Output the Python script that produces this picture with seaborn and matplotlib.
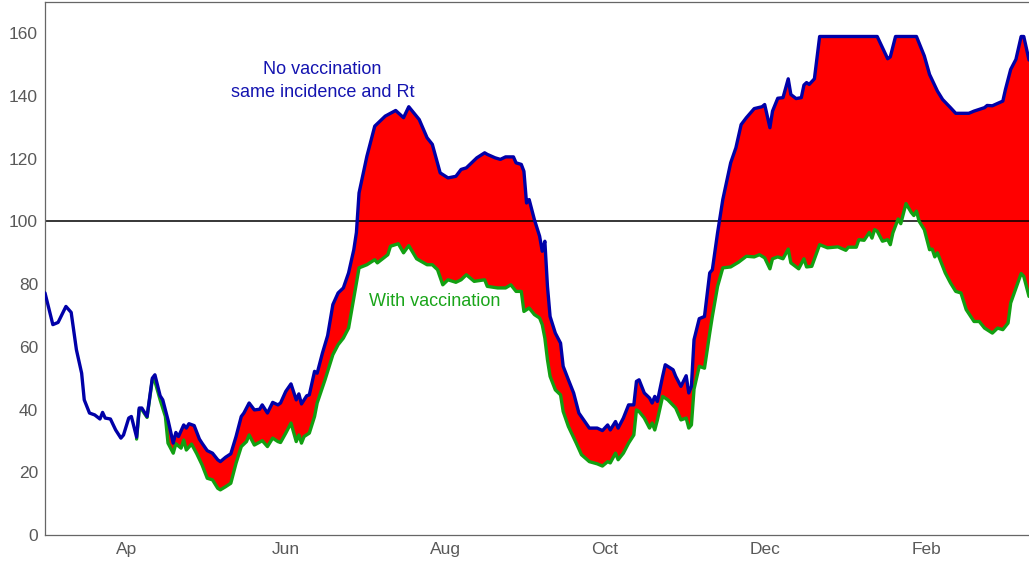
import matplotlib
matplotlib.use("Agg")
import matplotlib.pyplot as plt
import matplotlib.dates as mdates
import numpy as np
import pandas as pd
import seaborn as sns

# ---- Data ----
start = "2021-03-01"

# no vaccination (same incidence and Rt), days since start
blue_day = [0, 3, 5, 8, 10, 12, 14, 15, 17, 19, 21, 22, 23, 25, 27, 29, 30, 32, 33, 35,
            36, 37, 39, 41, 42, 44, 45, 47, 49, 50, 51, 53, 54, 55, 57, 59, 60, 62, 64, 66,
            67, 69, 71, 73, 75, 76, 78, 80, 82, 83, 85, 87, 89, 90, 92, 94, 96, 97, 98, 100,
            101, 103, 104, 106, 108, 110, 112, 114, 116, 118, 119, 120, 123, 126, 130, 134, 137, 139, 143, 146,
            148, 151, 154, 157, 159, 161, 163, 165, 168, 169, 172, 174, 176, 179, 180, 182, 183, 184, 185, 187,
            189, 190, 191, 192, 193, 195, 197, 198, 200, 202, 204, 208, 211, 213, 215, 216, 218, 219, 221, 223,
            225, 226, 227, 229, 231, 232, 233, 234, 236, 237, 240, 241, 243, 245, 246, 247, 248, 250, 252, 254,
            255, 257, 259, 262, 264, 266, 268, 271, 274, 275, 277, 278, 280, 282, 284, 285, 287, 289, 290, 291,
            292, 294, 296, 318, 322, 323, 325, 333, 336, 338, 341, 343, 346, 348, 353, 355, 359, 360, 362, 366,
            367, 369, 371, 373, 374, 376]
blue_val = [77.2, 67.1, 67.8, 72.9, 71.0, 59.1, 51.6, 43.1, 38.9, 38.3, 37.0, 39.1, 37.3, 37.0, 33.5, 30.9, 31.9, 37.3, 37.8, 31.2,
            40.5, 40.5, 37.8, 50.0, 51.1, 44.4, 43.1, 36.7, 29.3, 32.7, 31.4, 35.1, 34.1, 35.5, 34.9, 30.6, 29.3, 26.9, 26.1, 24.0,
            23.4, 24.8, 25.9, 31.4, 37.8, 38.9, 42.1, 39.9, 40.1, 41.5, 38.9, 42.3, 41.5, 42.1, 45.8, 48.2, 43.1, 45.0, 41.8, 44.4,
            44.7, 52.2, 51.6, 58.0, 63.6, 73.5, 77.2, 78.8, 83.6, 91.0, 96.5, 109.1, 120.8, 130.4, 133.6, 135.4, 133.1, 136.6, 132.5, 126.7,
            124.6, 115.5, 113.9, 114.4, 116.6, 117.1, 118.7, 120.3, 121.9, 121.4, 120.3, 119.8, 120.6, 120.6, 118.7, 118.2, 116.0, 105.9, 107.0, 100.6,
            95.3, 90.5, 93.7, 79.3, 69.7, 64.4, 61.2, 53.8, 49.5, 45.3, 38.9, 34.1, 34.1, 33.3, 35.1, 33.5, 36.2, 34.1, 37.3, 41.5,
            41.5, 49.0, 49.5, 45.3, 43.7, 42.1, 44.2, 42.6, 50.6, 54.3, 52.7, 50.6, 47.4, 50.8, 45.3, 47.4, 62.3, 69.0, 69.7, 83.6,
            84.6, 96.4, 107.0, 118.7, 123.5, 130.9, 133.1, 136.0, 136.6, 137.3, 129.9, 135.2, 139.3, 139.5, 145.5, 140.5, 139.2, 139.5, 143.5, 144.3,
            143.7, 145.5, 159.0, 159.0, 151.9, 152.5, 159.0, 159.0, 152.8, 146.9, 141.6, 138.9, 136.3, 134.5, 134.5, 135.2, 136.3, 137.0, 136.9, 138.4,
            142.1, 148.5, 151.7, 159.0, 159.0, 151.5]

# with vaccination
green_day = [35, 36, 37, 39, 41, 42, 44, 46, 47, 49, 50, 52, 53, 54, 56, 58, 60, 62, 64, 66,
             67, 69, 71, 73, 75, 77, 78, 80, 82, 83, 85, 87, 89, 90, 92, 94, 96, 97, 98, 99,
             101, 103, 104, 107, 110, 112, 114, 116, 118, 120, 123, 126, 127, 131, 132, 135, 137, 139, 142, 146,
             148, 150, 152, 154, 157, 159, 161, 164, 168, 169, 173, 176, 178, 180, 182, 183, 185, 187, 189, 190,
             191, 192, 193, 195, 197, 198, 200, 203, 205, 208, 211, 213, 215, 216, 218, 219, 221, 223, 225, 226,
             227, 229, 231, 232, 233, 234, 236, 238, 241, 243, 245, 246, 247, 248, 250, 252, 254, 255, 257, 259,
             262, 265, 268, 271, 273, 275, 277, 278, 280, 282, 284, 285, 288, 290, 291, 293, 296, 299, 303, 306,
             307, 310, 311, 313, 315, 316, 317, 318, 320, 322, 323, 324, 326, 327, 329, 331, 332, 333, 334, 336,
             338, 339, 340, 341, 344, 346, 348, 350, 352, 355, 357, 359, 362, 364, 366, 368, 369, 373, 374, 376]
green_val = [30.6, 40.0, 40.0, 37.5, 49.5, 49.0, 43.1, 37.8, 29.3, 26.1, 29.1, 27.7, 30.3, 27.1, 29.0, 25.9, 22.4, 18.1, 17.6, 14.9,
             14.4, 15.4, 16.5, 22.9, 28.2, 29.8, 31.9, 28.7, 29.6, 30.1, 28.2, 30.9, 29.8, 29.5, 32.5, 35.7, 29.8, 31.9, 29.3, 31.4,
             32.5, 37.8, 42.1, 49.5, 57.5, 60.7, 62.8, 66.0, 75.6, 85.2, 86.2, 87.8, 86.8, 89.4, 92.1, 92.9, 90.0, 92.3, 88.1, 86.2,
             86.2, 84.6, 79.8, 81.4, 80.6, 81.4, 83.0, 80.9, 81.4, 79.3, 78.8, 78.8, 79.8, 77.7, 77.7, 71.3, 72.4, 70.3, 69.2, 67.1,
             62.8, 55.9, 50.6, 46.3, 44.7, 39.4, 34.6, 29.3, 25.6, 23.4, 22.7, 22.0, 23.4, 23.0, 26.1, 24.0, 26.1, 29.3, 31.9, 39.9,
             39.4, 37.3, 34.1, 35.7, 33.5, 36.7, 44.2, 43.1, 40.5, 36.7, 37.3, 34.1, 35.1, 46.5, 53.8, 53.2, 64.4, 69.7, 79.3, 85.2,
             85.5, 87.0, 88.9, 88.7, 89.4, 88.4, 84.9, 88.1, 88.7, 88.1, 91.2, 86.8, 84.9, 88.1, 85.5, 85.7, 92.6, 91.6, 91.9, 90.8,
             91.8, 91.8, 94.2, 94.0, 96.5, 94.7, 97.4, 96.9, 93.7, 94.2, 92.6, 96.4, 100.8, 99.3, 105.7, 102.9, 101.9, 103.3, 100.1, 97.4,
             91.0, 91.2, 88.7, 90.0, 83.6, 80.4, 77.7, 77.2, 71.9, 68.1, 68.1, 66.0, 64.4, 66.0, 65.5, 67.6, 74.0, 83.4, 82.5, 76.1]

threshold = 100
month_labels = {4: "Ap", 6: "Jun", 8: "Aug", 10: "Oct", 12: "Dec", 2: "Feb"}

t0 = pd.Timestamp(start)
blue = pd.DataFrame({"date": t0 + pd.to_timedelta(blue_day, unit="D"), "value": blue_val})
green = pd.DataFrame({"date": t0 + pd.to_timedelta(green_day, unit="D"), "value": green_val})

# ---- Plot ----
sns.set_style("white")
plt.rcParams["font.family"] = ["Liberation Sans", "DejaVu Sans"]

fig = plt.figure(figsize=(10.29, 5.61), dpi=100)
ax = fig.add_axes([45 / 1029, 26 / 561, 984 / 1029, 533 / 561])

# gap between the two scenarios: blue forward, green back
b = blue[blue["date"] >= green["date"].iloc[0]]
poly_x = np.concatenate([mdates.date2num(b["date"]), mdates.date2num(green["date"])[::-1]])
poly_y = np.concatenate([b["value"].to_numpy(), green["value"].to_numpy()[::-1]])
ax.fill(poly_x, poly_y, color="#ff0000", linewidth=0, zorder=1)

ax.axhline(threshold, color="black", linewidth=1.1, zorder=2)

sns.lineplot(data=green, x="date", y="value", color="#12a012", linewidth=2.4,
             estimator=None, ax=ax, zorder=3)
sns.lineplot(data=blue, x="date", y="value", color="#0000a8", linewidth=2.4,
             estimator=None, ax=ax, zorder=4)

ax.text(t0 + pd.Timedelta(days=106), 148.4, "No vaccination", color="#1414b0",
        fontsize=13, ha="center", va="center")
ax.text(t0 + pd.Timedelta(days=106), 141.0, "same incidence and Rt", color="#1414b0",
        fontsize=13, ha="center", va="center")
ax.text(t0 + pd.Timedelta(days=149), 74.4, "With vaccination", color="#1aa51a",
        fontsize=13, ha="center", va="center")

ax.set_xlim(t0, t0 + pd.Timedelta(days=376))
ax.set_ylim(0, 170)
ax.set_yticks(range(0, 161, 20))

ticks = pd.date_range("2021-04-01", "2022-03-01", freq="MS")
ax.set_xticks(ticks)
ax.set_xticklabels([month_labels.get(t.month, "") for t in ticks])

ax.set_xlabel("")
ax.set_ylabel("")
ax.tick_params(axis="x", direction="in", length=8, width=0.9, color="#666666",
               labelsize=12.5, labelcolor="#595959", pad=5)
ax.tick_params(axis="y", direction="in", length=3, width=0.9, color="#666666",
               labelsize=12.5, labelcolor="#595959", pad=5)
for side in ["left", "bottom", "top"]:
    ax.spines[side].set_color("#666666")
    ax.spines[side].set_linewidth(0.9)
ax.spines["right"].set_visible(False)

fig.savefig("out.png", dpi=100)
plt.close(fig)
